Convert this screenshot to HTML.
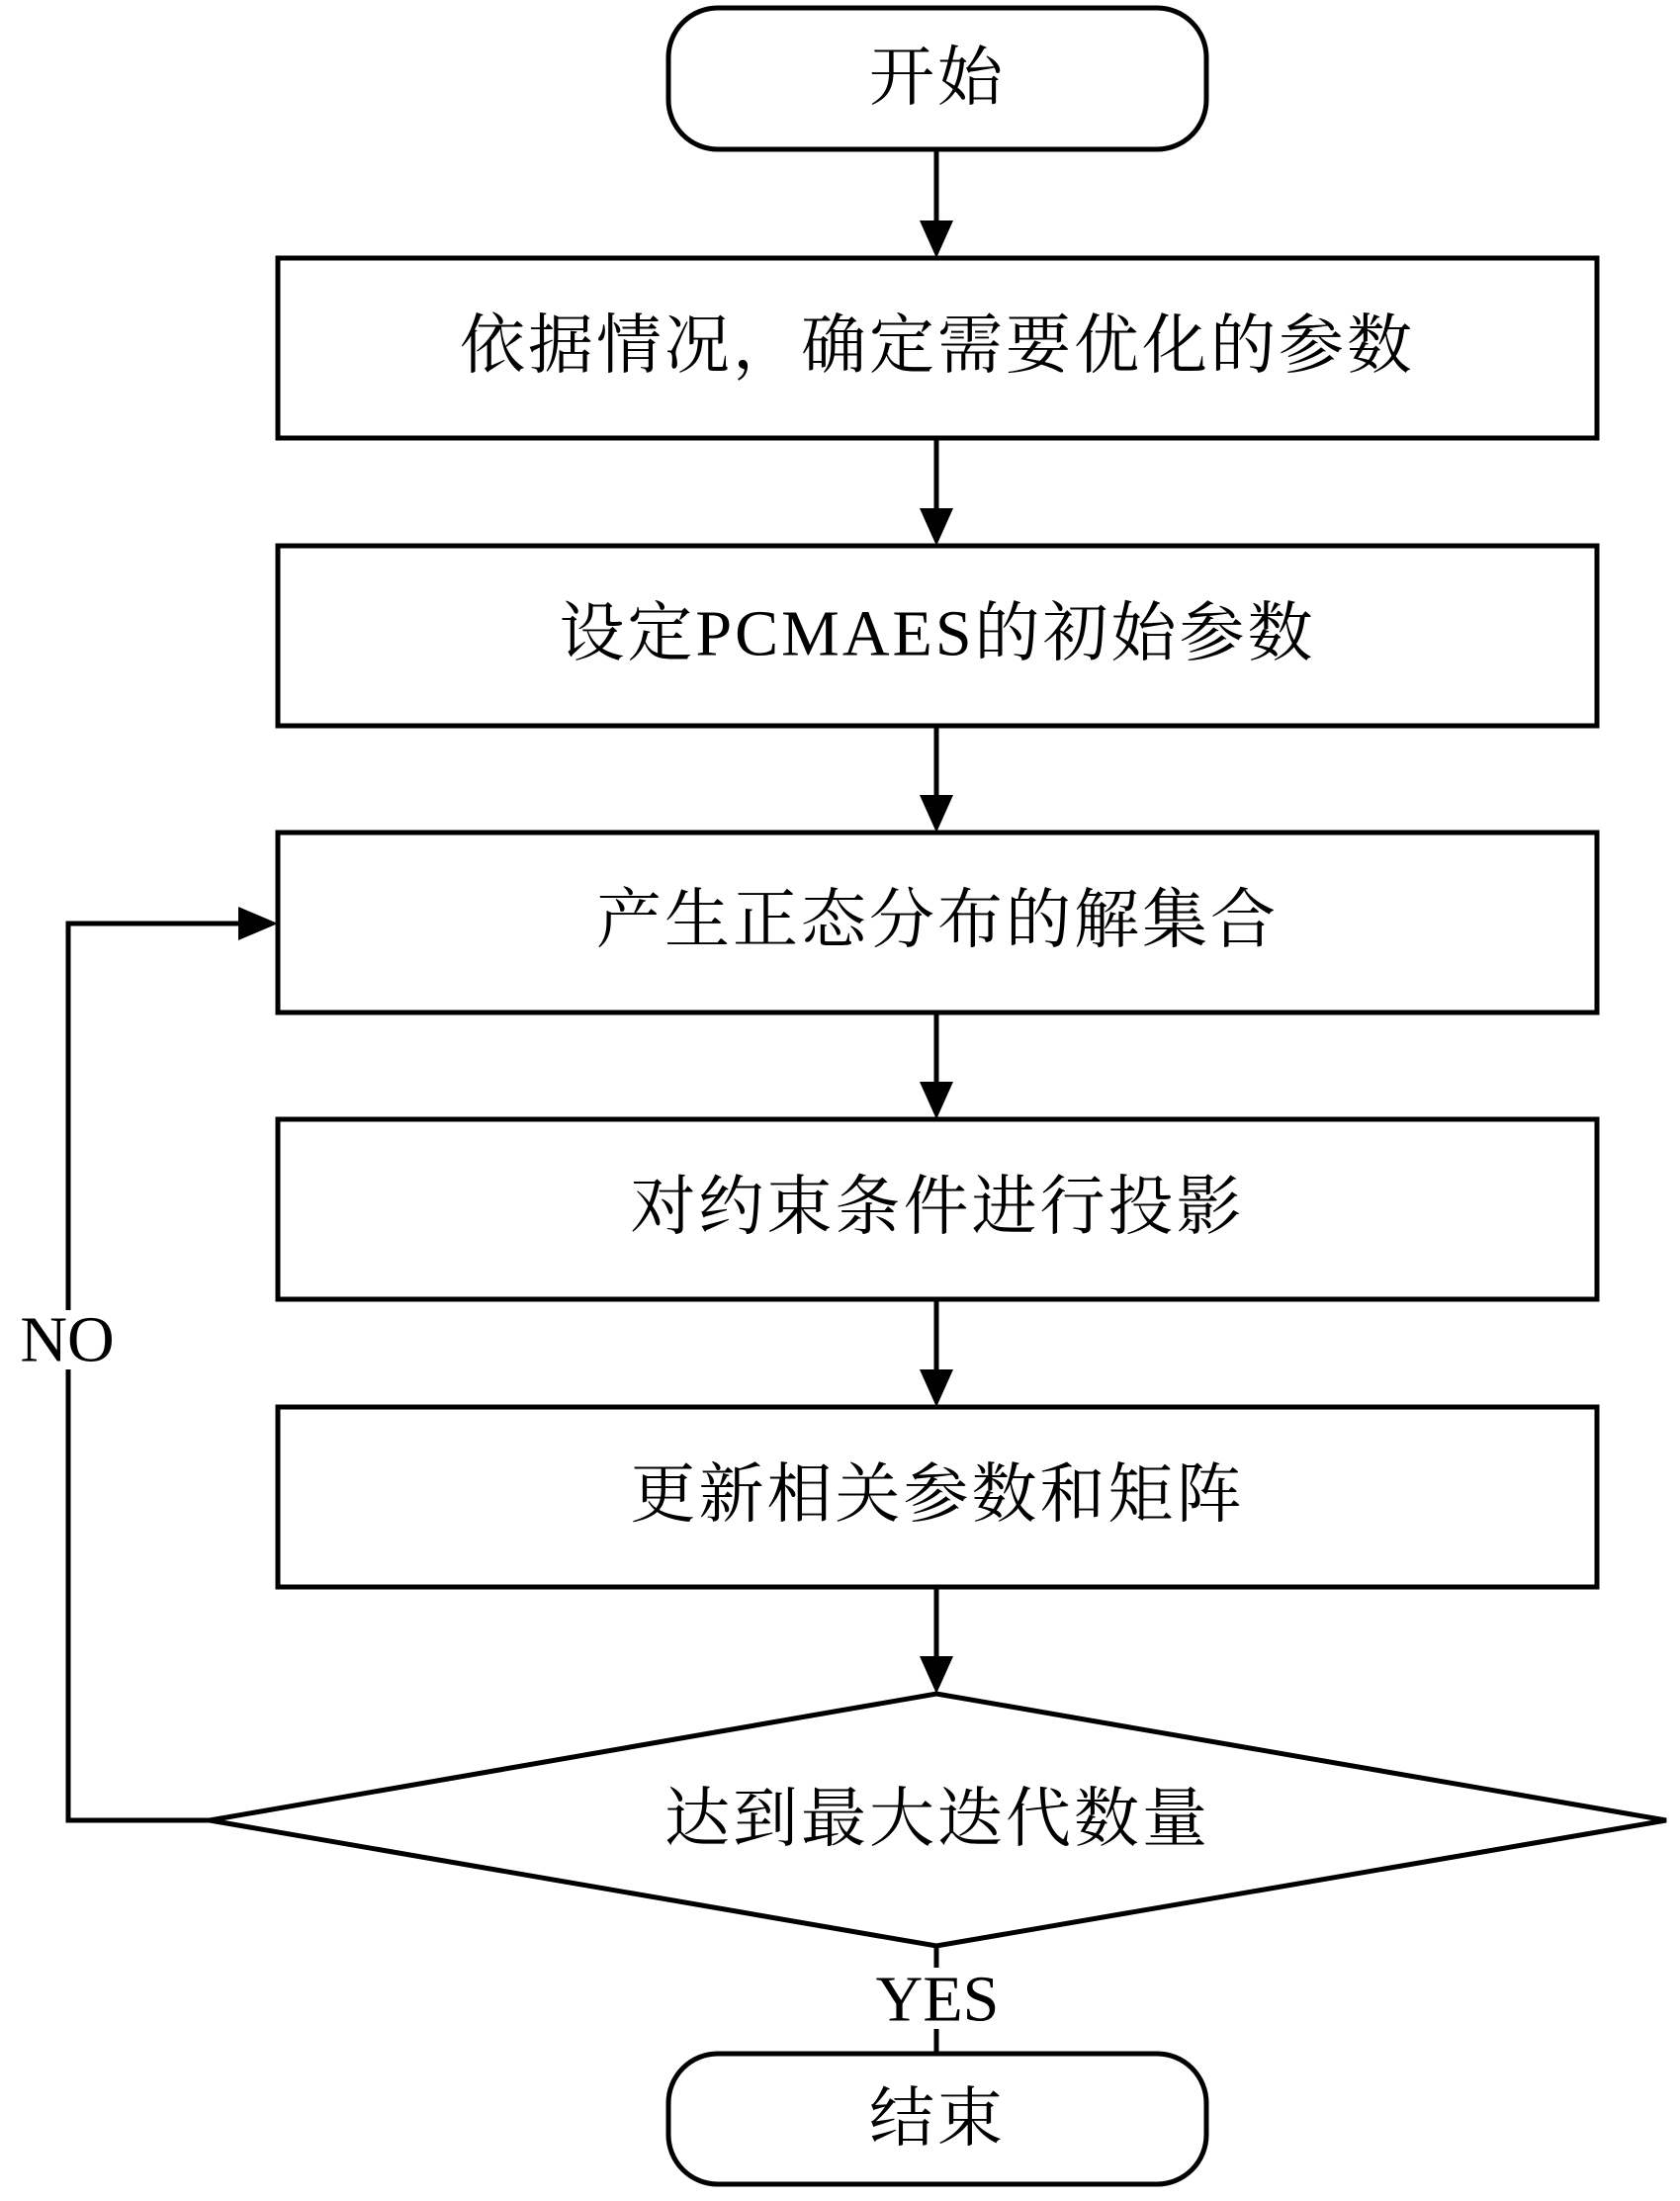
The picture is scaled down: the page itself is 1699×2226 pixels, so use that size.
<!DOCTYPE html>
<html><head><meta charset="utf-8"><style>
html,body{margin:0;padding:0;background:#fff;}
svg{display:block;}
text{font-family:"Liberation Serif","Noto Serif CJK SC",serif;font-size:66px;fill:#000;text-anchor:middle;dominant-baseline:central;letter-spacing:3px;}
</style></head><body>
<svg width="1699" height="2226" viewBox="0 0 1699 2226" xmlns="http://www.w3.org/2000/svg">
<g fill="none" stroke="#000" stroke-width="5">
<rect x="676" y="8" width="544" height="143" rx="50"/>
<rect x="281" y="261" width="1334" height="182"/>
<rect x="281" y="552" width="1334" height="182"/>
<rect x="281" y="842" width="1334" height="182"/>
<rect x="281" y="1132" width="1334" height="182"/>
<rect x="281" y="1423" width="1334" height="182"/>
<polygon points="947,1713 1685,1841 947,1968 212,1841"/>
<rect x="676" y="2077" width="544" height="132" rx="50"/>
<line x1="947" y1="151" x2="947" y2="225"/>
<line x1="947" y1="443" x2="947" y2="516"/>
<line x1="947" y1="734" x2="947" y2="806"/>
<line x1="947" y1="1024" x2="947" y2="1096"/>
<line x1="947" y1="1314" x2="947" y2="1387"/>
<line x1="947" y1="1605" x2="947" y2="1677"/>
<line x1="947" y1="1968" x2="947" y2="2077"/>
<polyline points="212,1841 69,1841 69,934 245,934"/>
</g>
<g fill="#000">
<polygon points="930,223 964,223 947,261"/>
<polygon points="930,514 964,514 947,552"/>
<polygon points="930,804 964,804 947,842"/>
<polygon points="930,1094 964,1094 947,1132"/>
<polygon points="930,1385 964,1385 947,1423"/>
<polygon points="930,1675 964,1675 947,1713"/>
<polygon points="241,917 241,951 281,934"/>
</g>
<rect x="20" y="1325" width="98" height="60" fill="#fff"/>
<rect x="885" y="1990" width="124" height="62" fill="#fff"/>
<text x="948" y="79">开始</text>
<text x="948" y="350">依据情况，确定需要优化的参数</text>
<text x="948" y="641">设定PCMAES的初始参数</text>
<text x="948" y="931">产生正态分布的解集合</text>
<text x="948" y="1221">对约束条件进行投影</text>
<text x="948" y="1512">更新相关参数和矩阵</text>
<text x="948" y="1840">达到最大迭代数量</text>
<text x="948" y="2143">结束</text>
<text x="68" y="1355" style="letter-spacing:0">NO</text>
<text x="948" y="2022" style="letter-spacing:0">YES</text>
</svg>
</body></html>
